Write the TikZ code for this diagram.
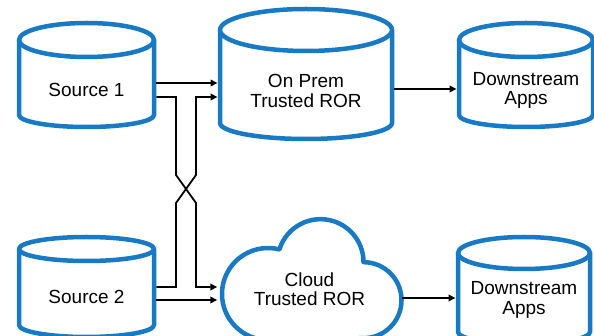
\documentclass[tikz,border=0pt]{standalone}
\usepackage{fontspec}
\setmainfont{Liberation Sans}
\usetikzlibrary{arrows.meta,calc}
\definecolor{cylblue}{RGB}{24,122,196}
\tikzset{
  shapeline/.style={draw=cylblue, line width=4.5pt, fill=white, line join=round},
  body/.style={inner sep=0pt, align=center, minimum height=40pt,
    font=\fontsize{19}{19.5}\selectfont},
  conn/.style={line width=1.8pt, -{Triangle[length=7pt,width=6.5pt]}}
}
% Cylinder: left x, right x, top-ellipse centre y, top radius,
% bottom corner y, bottom radius (y measured downward)
\newcommand\drawcyl[6]{%
  \pgfmathsetmacro\cylcx{(#1+#2)/2}%
  \pgfmathsetmacro\cylhw{(#2-#1)/2}%
  \filldraw[shapeline] (#1,-#3) -- (#1,-#5)
    arc[start angle=180, end angle=360, x radius=\cylhw pt, y radius=#6pt]
    -- (#2,-#3);
  \draw[shapeline] (\cylcx,-#3) ellipse[x radius=\cylhw pt, y radius=#4pt];
}
\begin{document}
\begin{tikzpicture}[x=1pt,y=1pt]
\useasboundingbox (0,0) rectangle (594,-336);

% storage cylinders
\drawcyl{19}{154}{40}{17}{115}{12}
\drawcyl{220}{392}{30}{21}{123}{16}
\drawcyl{459}{593}{40}{17}{115}{12}
\drawcyl{19}{154}{249}{12}{325}{12}
\drawcyl{458}{590}{253}{16}{332}{12}

% cloud outline
\filldraw[shapeline] (268,-340)
  arc[start angle=270, end angle=75.6, radius=46pt]
  arc[start angle=162.8, end angle=0, radius=43pt]
  arc[start angle=90, end angle=-90, radius=38pt] -- cycle;

% labels
\node[body, minimum width=139.5pt] (s1) at (86.5,-90) {Source 1};
\node[body, minimum width=176.5pt] (op) at (306,-91) {On Prem\\Trusted ROR};
\node[body, minimum width=138.5pt] (d1) at (526,-90.5) {Downstream\\Apps};
\node[body, minimum width=139.5pt] (s2) at (86.5,-297) {Source 2};
\node[body, minimum width=184pt] (cl) at (309.5,-289) {Cloud\\Trusted ROR};
\node[body, minimum width=136.5pt] (d2) at (524,-300) {Downstream\\Apps};

% connector end points
\coordinate (a1) at ($(s1.east)+(0,7)$);
\coordinate (a2) at ($(s1.east)+(0,-7)$);
\coordinate (b1) at ($(s2.east)+(0,10)$);
\coordinate (b2) at ($(s2.east)+(0,-3)$);
\coordinate (o2) at ($(op.west)+(0,-6)$);
\coordinate (c1) at ($(cl.west)+(0,2)$);
\coordinate (o3) at ($(op.east)+(0,2)$);
\coordinate (c3) at ($(cl.east)+(0,-9)$);

% straight feeds
\draw[conn] (a1) -- (a1 -| op.west);
\draw[conn] (b2) -- (b2 -| cl.west);
\draw[conn] (o3) -- (o3 -| d1.west);
\draw[conn] (c3) -- (c3 -| d2.west);

% crossed feeds
\draw[conn] (a2) -- (176,-97) -- (176,-175) -- (196,-203) -- (196,-287) -- (c1);
\draw[conn] (b1) -- (176,-287) -- (176,-203) -- (196,-175) -- (196,-97) -- (o2);
\end{tikzpicture}
\end{document}
